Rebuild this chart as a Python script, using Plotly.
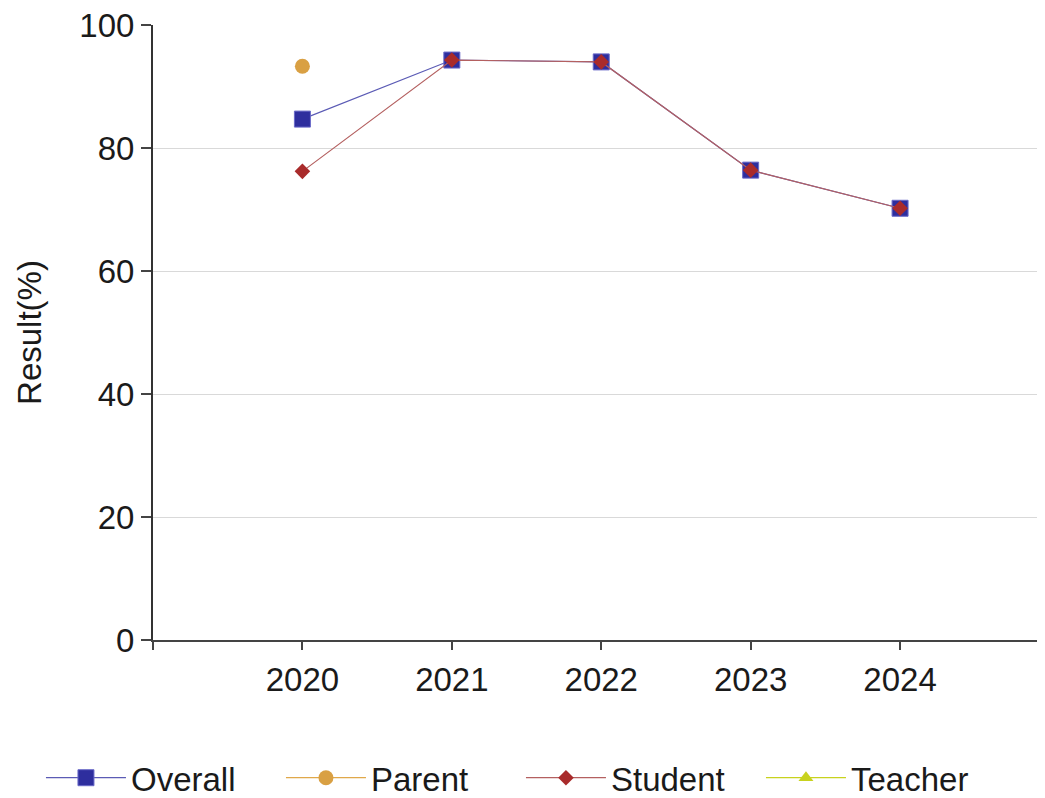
import plotly.graph_objects as go

years = [2020, 2021, 2022, 2023, 2024]
year_labels = ["2020", "2021", "2022", "2023", "2024"]
overall = [84.7, 94.3, 94.0, 76.4, 70.2]
parent = [93.3, None, None, None, None]
student = [76.2, 94.3, 94.0, 76.4, 70.2]
teacher = [None, None, None, None, None]
y_ticks = [0, 20, 40, 60, 80, 100]

FONT = "Liberation Sans, Arial, sans-serif"

# axis starts one year before the first category, with an unlabeled tick there
x_start = years[0] - 1
x_tickvals = [x_start] + years
x_ticktext = [""] + year_labels

fig = go.Figure()
fig.add_trace(go.Scatter(
    x=years, y=overall, name="Overall", mode="lines+markers",
    line=dict(color="#5B5BB5", width=1.2),
    marker=dict(symbol="square", size=16, color="#2E2E9E",
                line=dict(color="#6A6AC8", width=1)),
))
fig.add_trace(go.Scatter(
    x=years, y=parent, name="Parent", mode="lines+markers",
    line=dict(color="#E0A84A", width=1.2),
    marker=dict(symbol="circle", size=15, color="#D9A043"),
))
fig.add_trace(go.Scatter(
    x=years, y=student, name="Student", mode="lines+markers",
    line=dict(color="#B46060", width=1.2),
    marker=dict(symbol="diamond", size=12, color="#A92B2B"),
))
fig.add_trace(go.Scatter(
    x=years, y=teacher, name="Teacher", mode="lines+markers",
    line=dict(color="#C8D21E", width=1.2),
    marker=dict(symbol="triangle-up", size=13, color="#C8D21E"),
))

fig.update_layout(
    width=1037, height=790,
    margin=dict(l=145, r=0, t=17, b=158, autoexpand=False),
    paper_bgcolor="white", plot_bgcolor="white",
    font=dict(family=FONT, size=33, color="#1a1a1a"),
    showlegend=True,
    legend=dict(
        orientation="h", x=-0.1256, xanchor="left", y=-0.224, yanchor="middle",
        font=dict(size=33), entrywidth=145, itemwidth=80,
        bgcolor="rgba(0,0,0,0)",
    ),
)
fig.update_xaxes(
    range=[x_start, 2024.97], tickvals=x_tickvals, ticktext=x_ticktext,
    showgrid=False, showline=True, linecolor="#444444", linewidth=2,
    ticks="outside", ticklen=8, tickwidth=1.5, tickcolor="#444444",
    zeroline=False, ticklabelstandoff=1, automargin=False,
    ticklabeloverflow="allow",
)
fig.update_yaxes(
    range=[0, 100], tickvals=y_ticks,
    showgrid=True, gridcolor="#D9D9D9", gridwidth=1,
    showline=True, linecolor="#333333", linewidth=2,
    ticks="outside", ticklen=10, tickwidth=1.5, tickcolor="#444444",
    zeroline=False, ticklabelstandoff=0, automargin=False,
    ticklabeloverflow="allow",
    title=dict(text="Result(%)", standoff=28, font=dict(size=33)),
)

fig.write_html("out.html")
